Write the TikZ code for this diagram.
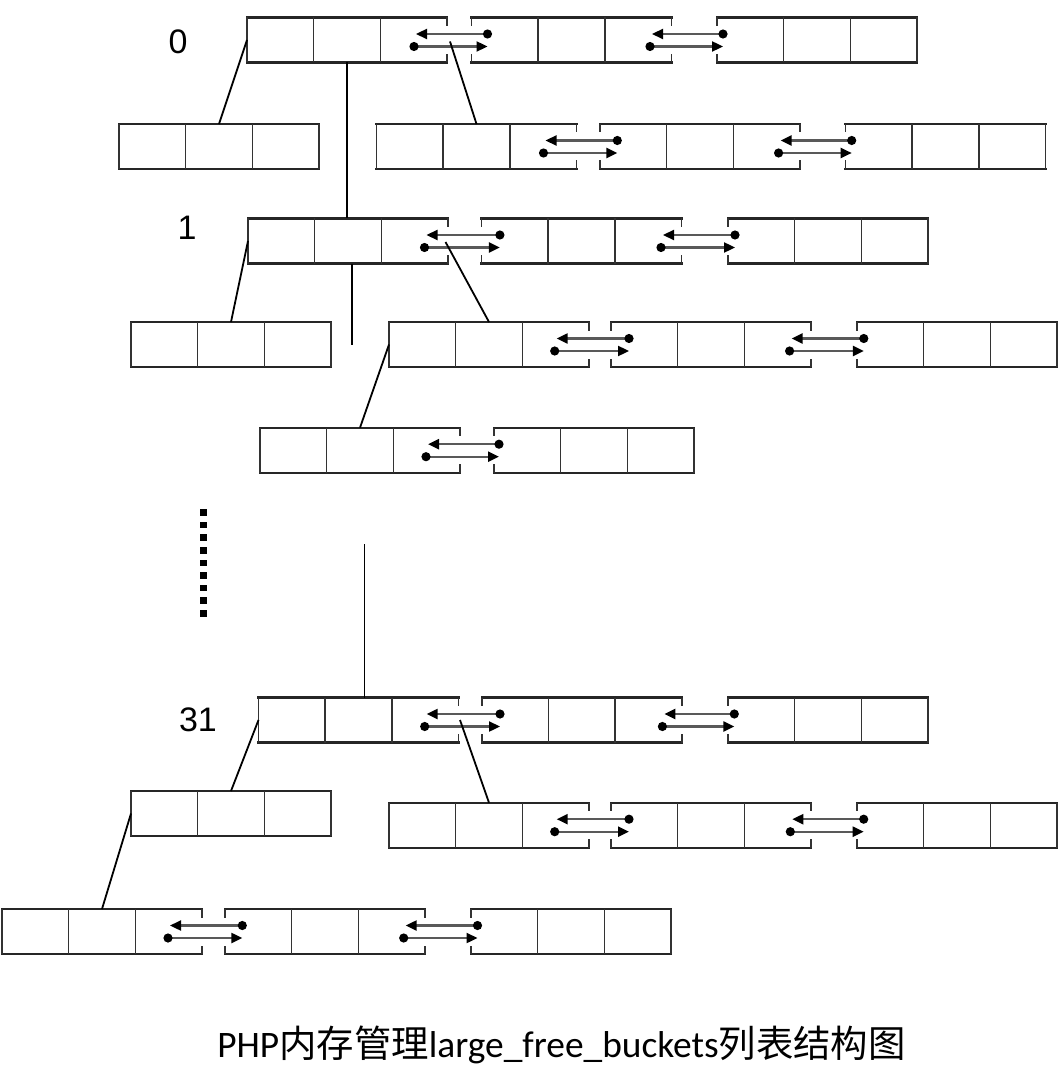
\documentclass[tikz,border=0pt]{standalone}
\usepackage{fontspec}
\usetikzlibrary{arrows.meta,calc}
\newfontfamily\arialf{Liberation Sans}
\newfontfamily\calibrif{Carlito}
\newfontfamily\cjkf{Noto Sans CJK SC}
\tikzset{
 grp/.style={rectangle,minimum width=200pt,minimum height=45pt,inner sep=0pt,outer sep=0pt,draw=none},
 hline/.style={draw=black!85,line width=2.2pt,line cap=rect},
 vline/.style={draw=black!80,line width=1.6pt},
 conn/.style={draw=black,line width=1.8pt},
 ptr/.style={draw=black!65,line width=2.3pt,{Circle[length=9pt,color=black]}-{Triangle[length=11pt,width=10pt,color=black]}},
 lbl/.style={font=\arialf\fontsize{34}{34}\selectfont,inner sep=0pt},
 captext/.style={font=\fontsize{37.4}{37.4}\selectfont,inner sep=0pt},
}
\newcommand\fullside[2]{\draw[vline] (#1) -- (#2);}
\newcommand\stubside[2]{\draw[vline] (#1) -- ++(0,8.5) (#2) -- ++(0,-8.5);}
\newcommand\drawgrp[3]{%
 \draw[hline] (#1.north west) -- (#1.north east) (#1.south west) -- (#1.south east);
 \draw[vline] ($(#1.north west)!1/3!(#1.north east)$) -- ($(#1.south west)!1/3!(#1.south east)$)
              ($(#1.north west)!2/3!(#1.north east)$) -- ($(#1.south west)!2/3!(#1.south east)$);
 #2{#1.north west}{#1.south west}%
 #3{#1.north east}{#1.south east}%
}
\newcommand\dlink[4]{%
 \draw[ptr] ($(#2.north west)+(#4+4.5,16.5)$) -- ($(#1.north east)+(-#3,16.5)$);
 \draw[ptr] ($(#1.north east)+(-#3-6.5,29)$) -- ($(#2.north west)+(#4,29)$);
}
\begin{document}
\begin{tikzpicture}[x=1pt,y=-1pt]
\fill[white] (0,0) rectangle (1059,1075);
\useasboundingbox (0,0) rectangle (1059,1075);

% labels
\node[lbl] (n0) at (178,42) {0};
\node[lbl] (n1) at (187,228) {1};
\node[lbl] (n31) at (198,720) {31};

% row 0
\node[grp] (r0a) at (347,40) {};
\node[grp] (r0b) at (571.5,40) {};
\node[grp] (r0c) at (817,40) {};
\drawgrp{r0a}{\fullside}{\stubside}
\drawgrp{r0b}{\stubside}{\stubside}
\drawgrp{r0c}{\stubside}{\fullside}
\dlink{r0a}{r0b}{31}{16}
\dlink{r0b}{r0c}{19.5}{6}

% sub row 0
\node[grp] (s0l) at (219,146.5) {};
\drawgrp{s0l}{\fullside}{\fullside}
\node[grp] (s0ra) at (476.5,146.5) {};
\node[grp] (s0rb) at (700,146.5) {};
\node[grp] (s0rc) at (945.5,146.5) {};
\drawgrp{s0ra}{\fullside}{\stubside}
\drawgrp{s0rb}{\stubside}{\stubside}
\drawgrp{s0rc}{\stubside}{\fullside}
\dlink{s0ra}{s0rb}{31}{17.3}
\dlink{s0rb}{s0rc}{19.4}{6.2}

% row 1
\node[grp] (r1a) at (348,241) {};
\node[grp] (r1b) at (581.4,241) {};
\node[grp] (r1c) at (828,241) {};
\drawgrp{r1a}{\fullside}{\stubside}
\drawgrp{r1b}{\stubside}{\stubside}
\drawgrp{r1c}{\stubside}{\fullside}
\dlink{r1a}{r1b}{21.5}{18.5}
\dlink{r1b}{r1c}{18.4}{7}

% sub row 1
\node[grp] (s1l) at (231,344.5) {};
\drawgrp{s1l}{\fullside}{\fullside}
\node[grp] (s1ra) at (489,344.5) {};
\node[grp] (s1rb) at (711,344.5) {};
\node[grp] (s1rc) at (957,344.5) {};
\drawgrp{s1ra}{\fullside}{\stubside}
\drawgrp{s1rb}{\stubside}{\stubside}
\drawgrp{s1rc}{\stubside}{\fullside}
\dlink{s1ra}{s1rb}{32.3}{18}
\dlink{s1rb}{s1rc}{19.4}{6.8}

% sub-sub row
\node[grp] (ssa) at (360,450.2) {};
\node[grp] (ssb) at (594,450.2) {};
\drawgrp{ssa}{\fullside}{\stubside}
\drawgrp{ssb}{\stubside}{\fullside}
\dlink{ssa}{ssb}{32}{5}

% ellipsis dots
\foreach \i in {0,...,8} \fill[black] (200.2,{509.2+12.6*\i}) rectangle ++(6.4,6.6);

% row 31
\node[grp] (r31a) at (358.5,720) {};
\node[grp] (r31b) at (581.7,720) {};
\node[grp] (r31c) at (828,720) {};
\drawgrp{r31a}{\fullside}{\stubside}
\drawgrp{r31b}{\stubside}{\stubside}
\drawgrp{r31c}{\stubside}{\fullside}
\dlink{r31a}{r31b}{31.8}{18.3}
\dlink{r31b}{r31c}{17.3}{6.3}

% sub row 31
\node[grp] (s31l) at (231,813.5) {};
\drawgrp{s31l}{\fullside}{\fullside}
\node[grp] (s31ra) at (489,825.2) {};
\node[grp] (s31rb) at (711,825.2) {};
\node[grp] (s31rc) at (957,825.2) {};
\drawgrp{s31ra}{\fullside}{\stubside}
\drawgrp{s31rb}{\stubside}{\stubside}
\drawgrp{s31rc}{\stubside}{\fullside}
\dlink{s31ra}{s31rb}{32.3}{18}
\dlink{s31rb}{s31rc}{18.7}{6.7}

% bottom row
\node[grp] (bta) at (102,931.5) {};
\node[grp] (btb) at (325,931.5) {};
\node[grp] (btc) at (571,931.5) {};
\drawgrp{bta}{\fullside}{\stubside}
\drawgrp{btb}{\stubside}{\stubside}
\drawgrp{btc}{\stubside}{\fullside}
\dlink{bta}{btb}{32}{17.3}
\dlink{btb}{btc}{19.3}{6.5}

% connectors
\coordinate (v1end) at (351.7,345);
\coordinate (v31top) at (364.5,544);
\draw[conn] (r0a.west) -- (s0l.north);
\draw[conn] (r0a.south) -- (r0a.south |- r1a.north);
\draw[conn] ($(r0a.east)+(3,1.5)$) -- (s0ra.north);
\draw[conn] (r1a.west) -- (s1l.north);
\draw[conn] (r1a.south -| v1end) -- (v1end);
\draw[conn] ($(r1a.east)+(-2.5,1)$) -- (s1ra.north);
\draw[conn] (s1ra.west) -- (ssa.north);
\draw[conn] (v31top) -- (v31top |- r31a.north);
\draw[conn] (r31a.west) -- (s31l.north);
\draw[conn] ($(r31a.east)+(1.5,0)$) -- (s31ra.north);
\draw[conn] (s31l.west) -- (bta.north);

% caption
\node[captext] (title) at (561.5,1045) {{\calibrif PHP}{\cjkf 内存管理}{\calibrif large\_free\_buckets}{\cjkf 列表结构图}};
\end{tikzpicture}
\end{document}
